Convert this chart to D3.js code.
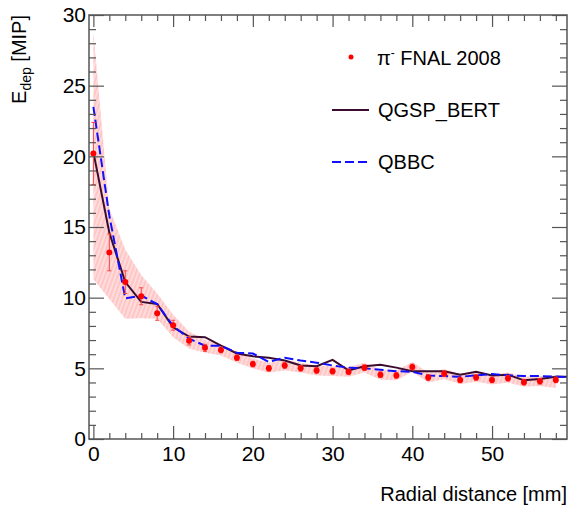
<!DOCTYPE html>
<html>
<head>
<meta charset="utf-8">
<script src="https://cdn.jsdelivr.net/npm/d3@7/dist/d3.min.js"></script>
<style>
body { margin: 0; background: #fff; }
svg { display: block; font-family: "Liberation Sans", Arial, sans-serif; }
</style>
</head>
<body>
<svg></svg>
<script>
// measured points (pi- FNAL 2008)
var radius = [0,2,4,6,8,10,12,14,16,18,20,22,24,26,28,30,32,34,36,38,40,42,44,46,48,50,52,54,56,58];
var dataVal = [20.2,13.2,11.1,10.1,8.9,8.05,6.95,6.45,6.3,5.75,5.3,5.0,5.2,5.0,4.85,4.8,4.75,5.05,4.55,4.5,5.1,4.35,4.62,4.18,4.35,4.18,4.3,4.02,4.08,4.18];
var dataErr = [2.2,1.3,0.8,0.6,0.5,0.35,0.3,0.25,0.2,0.2,0.2,0.2,0.2,0.2,0.2,0.2,0.2,0.2,0.2,0.2,0.2,0.2,0.2,0.2,0.2,0.2,0.2,0.2,0.2,0.2];
// systematic band
var bandLow  = [11.3,9.9,8.5,8.55,8.5,7.2,6.4,6.1,5.9,5.4,5.0,4.7,4.85,4.7,4.5,4.45,4.4,4.7,4.2,4.15,4.75,4.0,4.25,3.9,4.05,3.85,4.0,3.7,3.75,3.6];
var bandHigh = [28.8,16.3,13.4,11.6,10.3,8.8,7.6,7.0,6.7,6.15,5.7,5.4,5.6,5.4,5.2,5.15,5.1,5.4,4.9,4.85,5.45,4.7,4.95,4.6,4.75,4.55,4.7,4.4,4.45,4.5];
// simulations
var simRadius = [0,2,4,6,8,10,12,14,16,18,20,22,24,26,28,30,32,34,36,38,40,42,44,46,48,50,52,54,56,58,60];
var qgspBert = [20.3,14.6,11.1,9.7,9.55,7.9,7.25,7.2,6.6,6.05,5.85,5.75,5.55,5.2,5.15,5.6,4.85,5.15,5.25,5.05,4.8,4.8,4.8,4.55,4.75,4.5,4.55,4.15,4.25,4.4,4.4];
var qbbc = [23.5,15.8,9.95,10.15,9.55,8.0,7.1,6.6,6.6,6.1,6.05,5.45,5.75,5.55,5.4,5.2,5.05,5.0,4.9,4.8,4.75,4.5,4.45,4.4,4.5,4.6,4.5,4.45,4.45,4.42,4.35];

var xMajor = [0,10,20,30,40,50];
var xMinor = [2,4,6,8,12,14,16,18,22,24,26,28,32,34,36,38,42,44,46,48,52,54,56,58];
var yMajor = [0,5,10,15,20,25,30];
var yMinor = [1,2,3,4,6,7,8,9,11,12,13,14,16,17,18,19,21,22,23,24,26,27,28,29];

var legendItems = ['FNAL 2008', 'QGSP_BERT', 'QBBC'];

var svgWidth = 570, svgHeight = 509;
var padLeft = 89, padRight = 567, padTop = 15, padBottom = 439;
var lineColor = '#3b0c2e';
var frameColor = '#555';

var svg = d3.select('svg').attr('width', svgWidth).attr('height', svgHeight);

var xScale = d3.scaleLinear().domain([-0.55, 59.4]).range([padLeft, padRight]);
var yScale = d3.scaleLinear().domain([0, 30]).range([padBottom, padTop]);

var defs = svg.append('defs');
defs.append('clipPath').attr('id', 'plot')
	.append('rect').attr('x', padLeft).attr('y', padTop).attr('width', padRight - padLeft).attr('height', padBottom - padTop);
var pat = defs.append('pattern').attr('id', 'hatch')
	.attr('patternUnits', 'userSpaceOnUse').attr('width', 4).attr('height', 4)
	.attr('patternTransform', 'rotate(20)');
pat.append('rect').attr('width', 4).attr('height', 4).attr('fill', '#ffdcdc');
pat.append('line').attr('x1', 1).attr('y1', 0).attr('x2', 1).attr('y2', 4)
	.attr('stroke', '#ffb8b8').attr('stroke-width', 1.2);

var plot = svg.append('g').attr('clip-path', 'url(#plot)');

// band
var area = d3.area()
	.x((d, i) => xScale(radius[i]))
	.y0((d, i) => yScale(bandLow[i]))
	.y1((d, i) => yScale(bandHigh[i]));
plot.append('path').datum(bandLow).attr('d', area).attr('fill', 'url(#hatch)');

// simulation lines
var simLine = d3.line().x((d, i) => xScale(simRadius[i])).y(d => yScale(d));
plot.append('path').datum(qgspBert).attr('d', simLine)
	.attr('fill', 'none').attr('stroke', lineColor).attr('stroke-width', 2);
plot.append('path').datum(qbbc).attr('d', simLine)
	.attr('fill', 'none').attr('stroke', '#1010ff').attr('stroke-width', 2)
	.attr('stroke-dasharray', '9,4');

// data error bars and markers
var pts = plot.selectAll('g.pt').data(dataVal).enter().append('g').attr('class', 'pt');
pts.append('line')
	.attr('x1', (d, i) => xScale(radius[i])).attr('x2', (d, i) => xScale(radius[i]))
	.attr('y1', (d, i) => yScale(d - dataErr[i])).attr('y2', (d, i) => yScale(d + dataErr[i]))
	.attr('stroke', '#ff4040').attr('stroke-width', 1);
[-1, 1].forEach(function(s) {
	pts.append('line')
		.attr('x1', (d, i) => xScale(radius[i]) - 2).attr('x2', (d, i) => xScale(radius[i]) + 2)
		.attr('y1', (d, i) => yScale(d + s * dataErr[i])).attr('y2', (d, i) => yScale(d + s * dataErr[i]))
		.attr('stroke', '#ff4040').attr('stroke-width', 1);
});
pts.append('circle')
	.attr('cx', (d, i) => xScale(radius[i])).attr('cy', d => yScale(d))
	.attr('r', 3).attr('fill', '#ff0000');

// axes (ROOT style, ticks inside on all sides)
function styleAxis(g) {
	g.select('.domain').remove();
	g.selectAll('line').attr('stroke', frameColor).attr('stroke-width', 1.2);
	g.selectAll('text').attr('fill', '#000').style('font-size', '21px')
		.style('font-family', '"Liberation Sans", Arial, sans-serif');
}
svg.append('g').attr('transform', `translate(0,${padBottom})`)
	.call(d3.axisBottom(xScale).tickValues(xMajor).tickSize(-13).tickPadding(7).tickFormat(d3.format('d')))
	.call(styleAxis);
svg.append('g').attr('transform', `translate(0,${padBottom})`)
	.call(d3.axisBottom(xScale).tickValues(xMinor).tickSize(-6).tickFormat(''))
	.call(styleAxis);
svg.append('g').attr('transform', `translate(0,${padTop})`)
	.call(d3.axisTop(xScale).tickValues(xMajor).tickSize(-12).tickFormat(''))
	.call(styleAxis);
svg.append('g').attr('transform', `translate(0,${padTop})`)
	.call(d3.axisTop(xScale).tickValues(xMinor).tickSize(-6).tickFormat(''))
	.call(styleAxis);
svg.append('g').attr('transform', `translate(${padLeft},0)`)
	.call(d3.axisLeft(yScale).tickValues(yMajor).tickSize(-15).tickPadding(3).tickFormat(d3.format('d')))
	.call(styleAxis);
svg.append('g').attr('transform', `translate(${padLeft},0)`)
	.call(d3.axisLeft(yScale).tickValues(yMinor).tickSize(-7).tickFormat(''))
	.call(styleAxis);
svg.append('g').attr('transform', `translate(${padRight},0)`)
	.call(d3.axisRight(yScale).tickValues(yMajor).tickSize(-15).tickFormat(''))
	.call(styleAxis);
svg.append('g').attr('transform', `translate(${padRight},0)`)
	.call(d3.axisRight(yScale).tickValues(yMinor).tickSize(-7).tickFormat(''))
	.call(styleAxis);

svg.append('rect').attr('x', padLeft).attr('y', padTop)
	.attr('width', padRight - padLeft).attr('height', padBottom - padTop)
	.attr('fill', 'none').attr('stroke', frameColor).attr('stroke-width', 1.5);

// axis titles
svg.append('text')
	.attr('x', padRight).attr('y', 501)
	.attr('text-anchor', 'end').style('font-size', '20px')
	.text('Radial distance [mm]');
var yt = svg.append('text')
	.attr('transform', `translate(26,${padTop}) rotate(-90)`)
	.attr('text-anchor', 'end').style('font-size', '20px');
yt.append('tspan').text('E');
yt.append('tspan').attr('dy', 5).style('font-size', '14px').text('dep');
yt.append('tspan').attr('dy', -5).text(' [MIP]');

// legend
var lg = svg.append('g');
lg.append('circle').attr('cx', 351).attr('cy', 57).attr('r', 2.5).attr('fill', '#ff0000');
var t0 = lg.append('text').attr('x', 377).attr('y', 65).style('font-size', '20px');
t0.append('tspan').text('\u03C0');
t0.append('tspan').attr('dy', -8).style('font-size', '12px').text('-');
t0.append('tspan').attr('dy', 8).text(' ' + legendItems[0]);
lg.append('line').attr('x1', 332).attr('x2', 369).attr('y1', 110).attr('y2', 110)
	.attr('stroke', lineColor).attr('stroke-width', 2);
lg.append('text').attr('x', 378).attr('y', 117).style('font-size', '20px').text(legendItems[1]);
lg.append('line').attr('x1', 332).attr('x2', 369).attr('y1', 162).attr('y2', 162)
	.attr('stroke', '#1010ff').attr('stroke-width', 2).attr('stroke-dasharray', '9,4');
lg.append('text').attr('x', 378).attr('y', 169).style('font-size', '20px').text(legendItems[2]);
</script>
</body>
</html>
